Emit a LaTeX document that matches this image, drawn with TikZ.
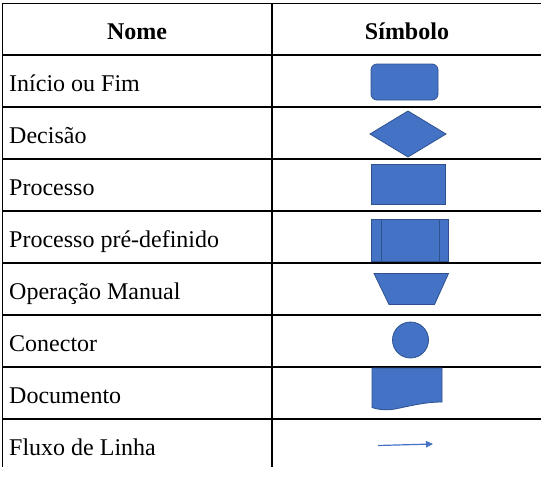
\documentclass[tikz,border=0pt]{standalone}
\usepackage{fontspec}
\setmainfont{Liberation Serif}
\usetikzlibrary{arrows.meta}
\definecolor{symfill}{HTML}{4472C4}
\definecolor{symdraw}{HTML}{2F528F}
\begin{document}
\begin{tikzpicture}[x=1pt,y=-1pt,
  grid/.style={line width=1.3pt,black},
  sym/.style={fill=symfill,draw=symdraw,line width=0.8pt},
  rowtext/.style={anchor=base west,inner sep=0pt,font=\fontsize{24}{28}\selectfont},
  headtext/.style={anchor=base,inner sep=0pt,font=\fontsize{24}{28}\selectfont\bfseries}]
\useasboundingbox (0,0) rectangle (541,477);
% grid
\foreach \y in {3.5,55,107,159,211,263,315,367,419}
  \draw[grid] (2,\y) -- (541,\y);
\draw[grid] (2.5,3.5) -- (2.5,467);
\draw[grid] (272,3.5) -- (272,467);
% header
\node[headtext] (hnome) at (137,39.5) {Nome};
\node[headtext] (hsimb) at (407,39.5) {Símbolo};
% row labels
\node[rowtext] (t1) at (9,91) {Início ou Fim};
\node[rowtext] (t2) at (9,143) {Decisão};
\node[rowtext] (t3) at (9,195) {Processo};
\node[rowtext] (t4) at (9,247) {Processo pré-definido};
\node[rowtext] (t5) at (9,299) {Operação Manual};
\node[rowtext] (t6) at (9,351) {Conector};
\node[rowtext] (t7) at (9,403) {Documento};
\node[rowtext] (t8) at (9,455) {Fluxo de Linha};
% symbols
\draw[sym,rounded corners=6pt] (371,64) rectangle (438,100);
\draw[sym] (370,134) -- (408,111) -- (446,134) -- (408,157) -- cycle;
\draw[sym] (371,164.5) rectangle (445.5,204.5);
\draw[sym] (371,219.5) rectangle (448.5,261);
\draw[symdraw,line width=0.8pt] (381.5,219.5) -- (381.5,261) (439,219.5) -- (439,261);
\draw[sym] (374,273.5) -- (448.5,273.5) -- (434.5,304.5) -- (389,304.5) -- cycle;
\draw[sym] (410.5,340) circle (18);
\draw[sym] (372,368) -- (442,368) -- (442,402)
  .. controls (425,402) and (410,406) .. (395,409)
  .. controls (386,410.5) and (380,410) .. (372,407.5) -- cycle;
\coordinate (a1) at (378,445.5);
\coordinate (a2) at (433,444);
\draw[symfill,line width=1.2pt,-{Triangle[length=7pt,width=6.5pt]}] (a1) -- (a2);
\end{tikzpicture}
\end{document}
